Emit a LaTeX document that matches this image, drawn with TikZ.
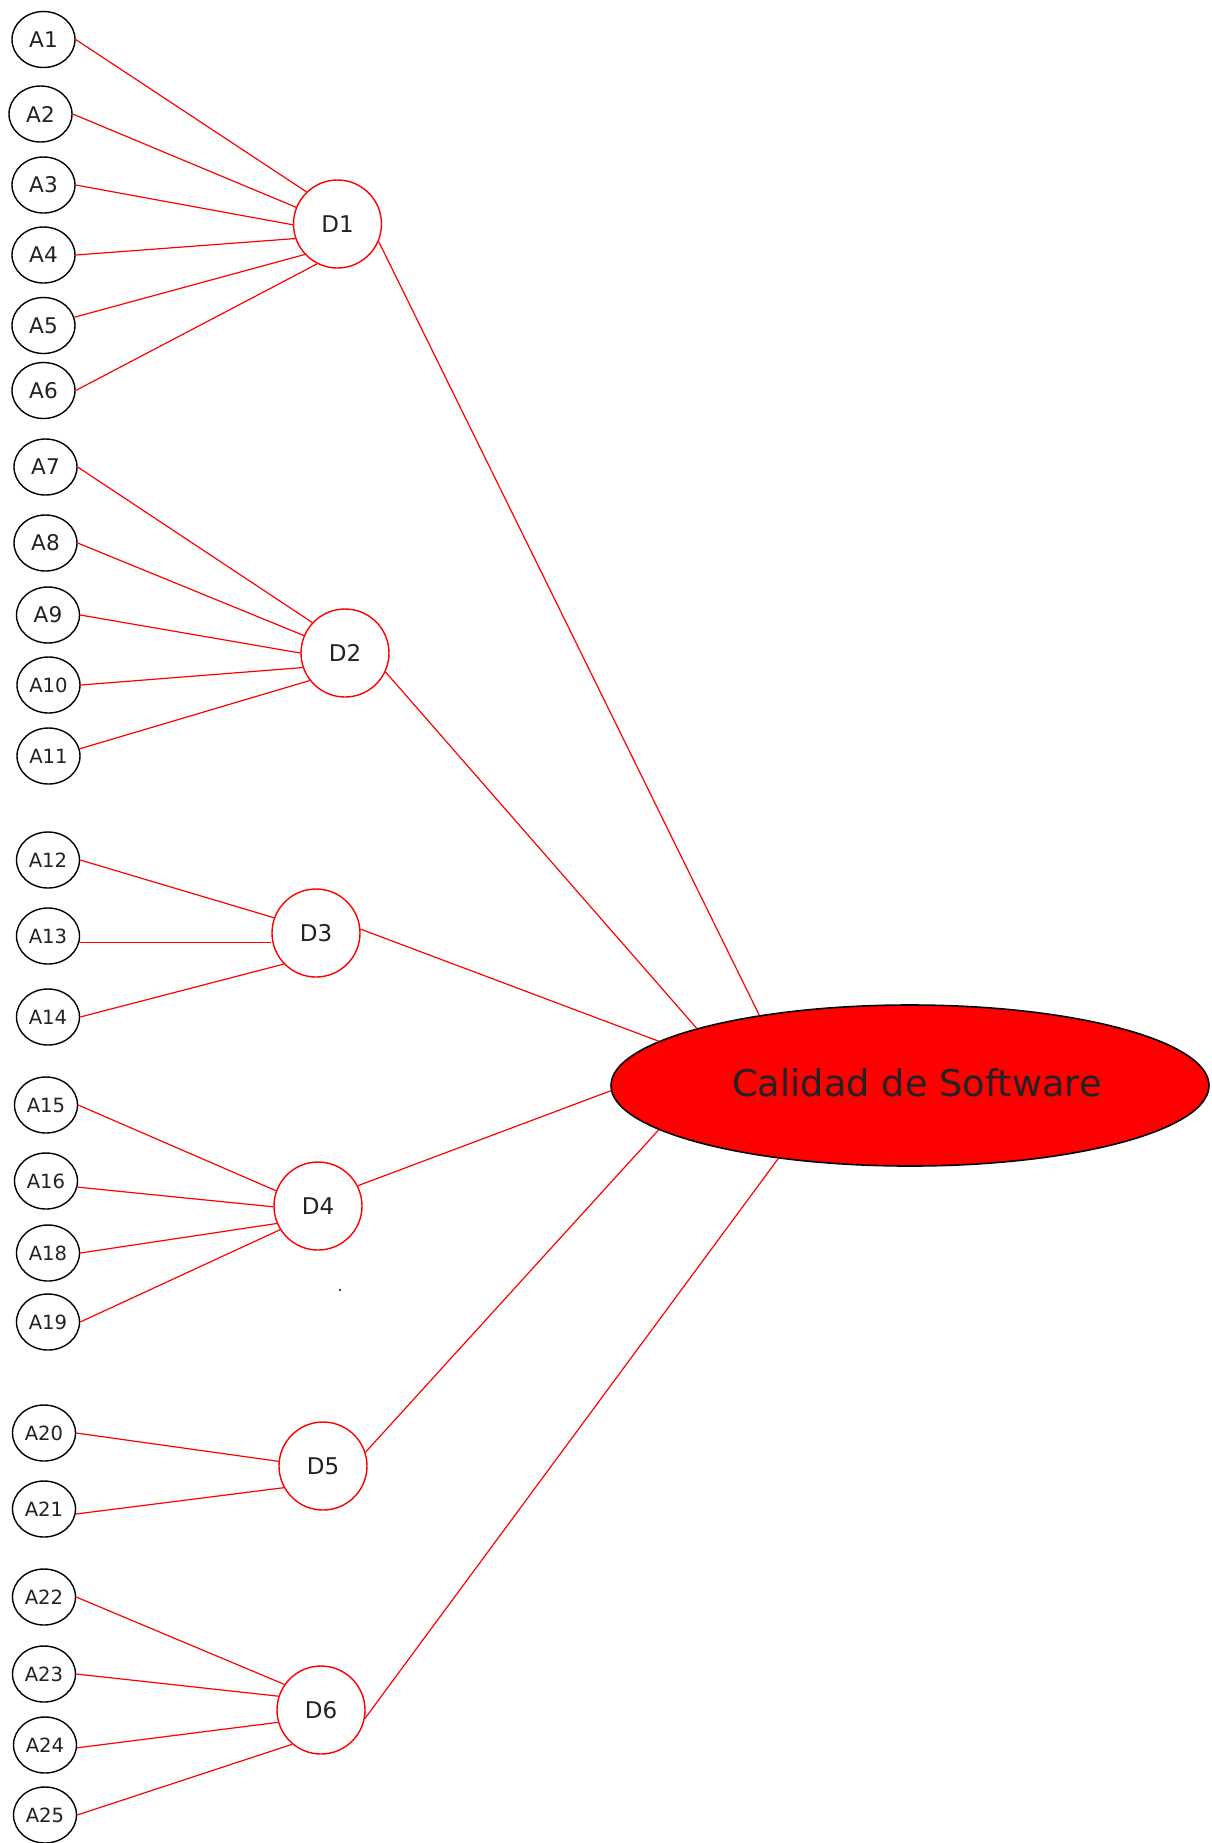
\documentclass[tikz,border=0pt]{standalone}
\usepackage{fontspec}
\setmainfont{DejaVu Sans}
\usetikzlibrary{shapes.geometric}
\definecolor{labelgray}{HTML}{222222}
\begin{document}
\begin{tikzpicture}[x=0.5pt,y=-0.5pt,
  attr/.style={ellipse,draw=black,line width=0.7pt,fill=white,
    minimum width=31.5pt,minimum height=28pt,inner sep=0pt,
    text=labelgray,font=\fontsize{10.8}{12}\selectfont},
  attrs/.style={attr,font=\fontsize{9.8}{11}\selectfont},
  dim/.style={circle,draw=red,line width=0.7pt,fill=white,
    minimum size=44pt,inner sep=0pt,
    text=labelgray,font=\fontsize{11.5}{13}\selectfont},
  root/.style={ellipse,draw=black,line width=0.8pt,fill=red,
    minimum width=299pt,minimum height=80.5pt,inner sep=0pt,
    text=labelgray,font=\fontsize{18.4}{21}\selectfont},
  link/.style={draw=red,line width=0.6pt}]
\useasboundingbox (0,0) rectangle (1211,1843);

% central concept
\node[root] (cs) at (910,1085.5) {\raisebox{3pt}{\hspace*{7pt}Calidad de Software}};

% dimensions
\node[dim] (D1) at (337.5,224) {D1};
\node[dim] (D2) at (345,653) {D2};
\node[dim] (D3) at (316,933) {D3};
\node[dim] (D4) at (318,1206) {D4};
\node[dim] (D5) at (323,1466) {D5};
\node[dim] (D6) at (321,1710) {D6};

% attributes
\node[attr] (A1) at (43.5,39.5) {A1};
\node[attr] (A2) at (40.5,114) {A2};
\node[attr] (A3) at (43.5,185) {A3};
\node[attr] (A4) at (43.5,255) {A4};
\node[attr] (A5) at (43.5,325.5) {A5};
\node[attr] (A6) at (43.5,390.5) {A6};
\node[attr] (A7) at (45.5,467) {A7};
\node[attr] (A8) at (45.5,543) {A8};
\node[attr] (A9) at (48,615) {A9};
\node[attrs] (A10) at (48.5,685) {A10};
\node[attrs] (A11) at (48.5,756) {A11};
\node[attrs] (A12) at (48,860) {A12};
\node[attrs] (A13) at (48,936) {A13};
\node[attrs] (A14) at (48,1017) {A14};
\node[attrs] (A15) at (46,1105) {A15};
\node[attrs] (A16) at (46,1181) {A16};
\node[attrs] (A18) at (48,1253) {A18};
\node[attrs] (A19) at (48,1322) {A19};
\node[attrs] (A20) at (44,1433) {A20};
\node[attrs] (A21) at (44,1509) {A21};
\node[attrs] (A22) at (44,1597) {A22};
\node[attrs] (A23) at (44,1674) {A23};
\node[attrs] (A24) at (45,1745) {A24};
\node[attrs] (A25) at (45,1815) {A25};

% attribute -> dimension links
\draw[link] (A1.east) -- (D1.134);
\draw[link] (A2.east) -- (D1.158);
\draw[link] (A3.east) -- (D1.181);
\draw[link] (A4.east) -- (D1.199);
\draw[link] (A5.15)   -- (D1.223);
\draw[link] (A6.east) -- (D1.243);

\draw[link] (A7.east)  -- (D2.137);
\draw[link] (A8.east)  -- (D2.157);
\draw[link] (A9.east)  -- (D2.180);
\draw[link] (A10.east) -- (D2.199);
\draw[link] (A11.13)   -- (D2.218);

\draw[link] (A12.east) -- (D3.160);
\draw[link] (A13.-12)  -- (A13.-12 -| D3.west);
\draw[link] (A14.east) -- (D3.224);

\draw[link] (A15.east) -- (D4.160);
\draw[link] (A16.-11)  -- (D4.181);
\draw[link] (A18.east) -- (D4.203);
\draw[link] (A19.east) -- (D4.212);

\draw[link] (A20.east) -- (D5.174);
\draw[link] (A21.-9)   -- (D5.209);

\draw[link] (A22.east) -- (D6.145);
\draw[link] (A23.east) -- (D6.162);
\draw[link] (A24.-5)   -- (D6.196);
\draw[link] (A25.east) -- (D6.230);

% dimension -> concept links
\draw[link] (D1.-23) -- (cs.155);
\draw[link] (D2.-25) -- (cs.165);
\draw[link] (D3.5)   -- (cs.170.8);
\draw[link] (D4.27)  -- (cs.181);
\draw[link] (D5.18)  -- (cs.190.7);
\draw[link] (D6.-11) -- (cs.209);

% stray point
\fill[black] (340,1290) circle (0.6pt);
\end{tikzpicture}
\end{document}
